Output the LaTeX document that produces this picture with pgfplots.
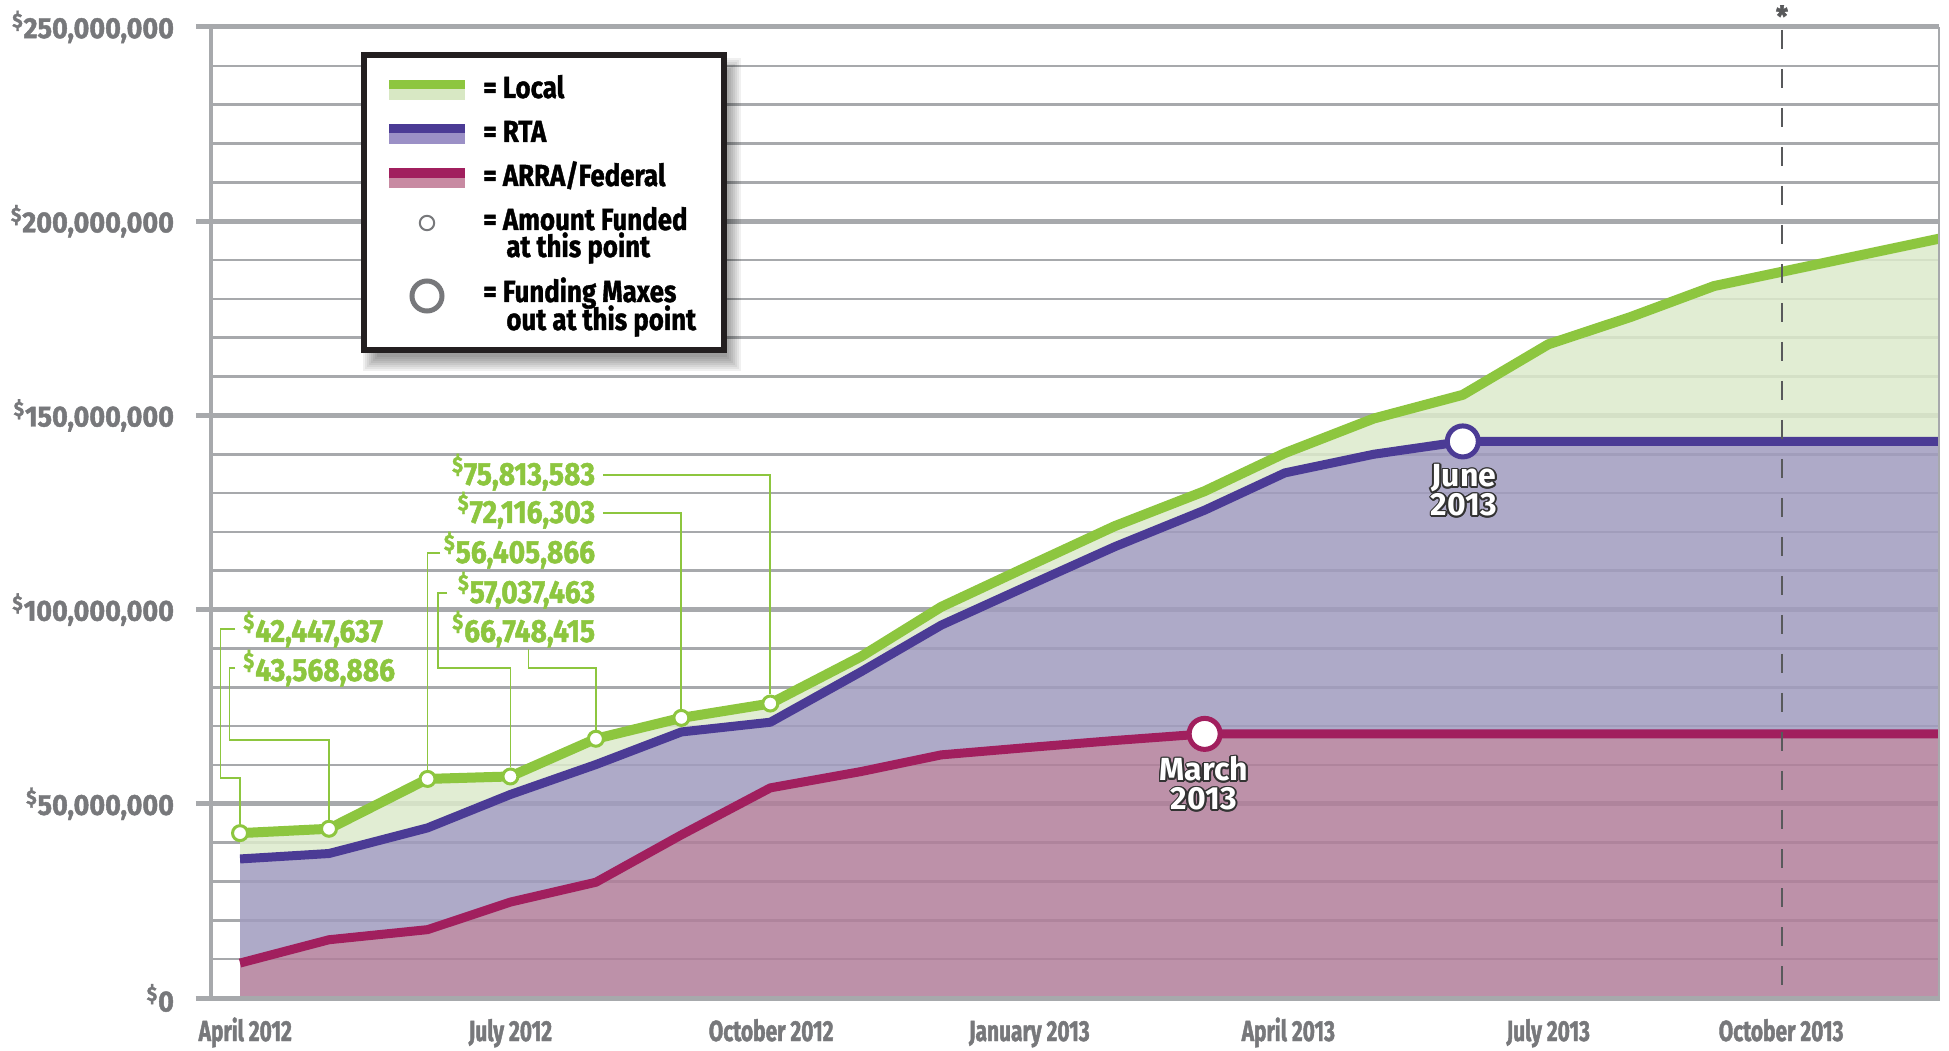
\documentclass[border=0pt]{standalone}
\usepackage{pgfplots}
\pgfplotsset{compat=1.18}
\usepackage{pgfplotstable}
\usepgfplotslibrary{fillbetween}
\usepackage{fontspec}
\setmainfont{Fira Sans}
\newfontfamily\ticksf{Fira Sans}[FakeStretch=0.93, FakeBold=1.5]
\newfontfamily\monthf{Fira Sans}[FakeStretch=0.72, FakeBold=1.5]
\newfontfamily\legf{Fira Sans}[FakeStretch=0.85, FakeBold=1.2]
\newfontfamily\valf{Fira Sans}[FakeStretch=0.88, FakeBold=1.5]
\newfontfamily\markf{Fira Sans}
\newcommand\fTick{\ticksf\bfseries\fontsize{14.5}{15}\selectfont}
\newcommand\fMonth{\monthf\bfseries\fontsize{14.5}{15}\selectfont}
\newcommand\fLeg{\legf\bfseries\fontsize{15.2}{16}\selectfont}
\newcommand\fVal{\valf\bfseries\fontsize{16}{17}\selectfont}
\newcommand\fMark{\markf\bfseries\fontsize{16}{17}\selectfont}

\definecolor{lcol}{HTML}{8DC63F}
\definecolor{rcol}{HTML}{4B3B95}
\definecolor{acol}{HTML}{A11F5E}
\definecolor{lfill}{HTML}{DCEACB}
\definecolor{rfill}{HTML}{A09BBE}
\definecolor{afill}{HTML}{B17E9A}
\definecolor{lsw}{HTML}{D8E8C4}
\definecolor{rsw}{HTML}{9B90C6}
\definecolor{asw}{HTML}{C88AA2}
\definecolor{gridgray}{HTML}{A7A9AC}
\definecolor{tickgray}{HTML}{77787B}
\definecolor{dashc}{HTML}{58595B}
\definecolor{haloc}{HTML}{333333}
\definecolor{boxc}{HTML}{231F20}

% x: months after April 2012, y: millions of dollars
\pgfplotstableread{
x     loc        rta    arra
0     42.447637  35.8   9.0
1.02  43.568886  37.2   15.0
2.15  56.405866  43.8   17.6
3.10  57.037463  52.4   24.7
4.08  66.748415  60.1   29.8
5.06  72.116303  68.5   42.0
6.08  75.813583  71.0   54.1
7.12  87.9       84.0   58.3
8.04  100.7      96.0   62.6
9.04  111.2      106.2  64.5
10.03 121.5      116.2  66.3
11.06 130.5      125.6  68.0
11.98 140.3      135.2  68.0
13.0  149.2      140.0  68.0
14.02 155.3      143.3  68.0
15.0  168.3      143.3  68.0
15.94 175.3      143.3  68.0
16.9  183.3      143.3  68.0
19.48 195.5      143.3  68.0
}\fund

% white label with a dark outline
\newcommand\halotext[2]{%
  \foreach \a in {0,30,...,330}{\node[anchor=base, font=\fMark, text=haloc, shift={(\a:0.9pt)}] at (#1) {#2};}%
  \node[anchor=base, font=\fMark, text=white] at (#1) {#2};}

\begin{document}
\begin{tikzpicture}
\begin{axis}[
    scale only axis, width=864pt, height=485.5pt,
    xmin=-0.333, xmax=19.48, ymin=0, ymax=250,
    axis line style={draw=none},
    xtick={0.06,3.1,6.09,9.05,12.02,15,17.67},
    xticklabels={April 2012,July 2012,October 2012,January 2013,April 2013,July 2013,October 2013},
    xtick style={draw=none},
    xticklabel style={font=\fMonth, text=tickgray, anchor=base, yshift=-14pt},
    ytick={0,50,100,150,200,250},
    yticklabels={{\textsuperscript{\$}0},{\textsuperscript{\$}50,000,000},{\textsuperscript{\$}100,000,000},{\textsuperscript{\$}150,000,000},{\textsuperscript{\$}200,000,000},{\textsuperscript{\$}250,000,000}},
    yticklabel style={font=\fTick, text=tickgray, anchor=east, xshift=-7.5pt},
    minor y tick num=4,
    ymajorgrids, yminorgrids,
    major grid style={line width=2.5pt, draw=gridgray},
    minor grid style={line width=1.3pt, draw=gridgray},
    ytick pos=left, tick align=outside,
    major tick length=7.5pt, minor tick length=0pt,
    ytick style={line width=2.5pt, draw=gridgray},
]
\addplot[draw=none, name path=L] table[x=x, y=loc] {\fund};
\addplot[draw=none, name path=R] table[x=x, y=rta] {\fund};
\addplot[draw=none, name path=A] table[x=x, y=arra] {\fund};
\addplot[draw=none, name path=Z] coordinates {(0,0) (19.48,0)};
\addplot[fill=lfill, fill opacity=0.85, draw=none] fill between[of=L and R];
\addplot[fill=rfill, fill opacity=0.85, draw=none] fill between[of=R and A];
\addplot[fill=afill, fill opacity=0.85, draw=none] fill between[of=A and Z];

\addplot[acol, line width=4.5pt, line join=round] table[x=x, y=arra] {\fund};
\addplot[rcol, line width=4.5pt, line join=round] table[x=x, y=rta] {\fund};
\addplot[lcol, line width=5pt, line join=round] table[x=x, y=loc] {\fund};

% amount funded points
\addplot[only marks, mark=*, mark size=3.75pt, draw=lcol, fill=white, line width=1.5pt,
    restrict x to domain=0:6.5] table[x=x, y=loc] {\fund};
% funding maxes out
\addplot[only marks, mark=*, mark size=7.75pt, draw=acol, fill=white, line width=2.5pt] coordinates {(11.06,68.0)};
\addplot[only marks, mark=*, mark size=7.75pt, draw=rcol, fill=white, line width=2.5pt] coordinates {(14.02,143.3)};
\end{axis}

\begin{scope}[x=0.5pt, y=-0.5pt, shift={(-105.5pt,499pt)}, every node/.style={inner sep=0pt}]
% frame
\draw[gridgray, line width=2pt] (211,27) -- (211,998);
\draw[gridgray, line width=1pt] (1939,27) -- (1939,998);
\draw[gridgray, line width=2.5pt] (196,998) -- (1940,998);
% dashed marker
\draw[dashc, line width=1pt, dash pattern=on 9.5pt off 10pt] (1782,30) -- (1782,997);
\node[font=\fTick, text=dashc] at (1782,16) {*};

% month labels on the max points
\halotext{1204,781}{March}
\halotext{1204,810}{2013}
\halotext{1464,487}{June}
\halotext{1464,516}{2013}

% leader lines
\begin{scope}[lcol, line width=0.75pt]
\draw (603,475) -| (770.2,694.5);
\draw (603,513) -| (681.2,709);
\draw (440,553) -| (427.5,770);
\draw (447,593) -- (438,593) -- (438,668) -- (510.3,668) -- (510.3,767.5);
\draw (528.5,649) -- (528.5,668) -- (595.8,668) -- (595.8,729.7);
\draw (235,629) -- (220.5,629) -- (220.5,778) -- (240,778) -- (240,824);
\draw (235,668) -- (229.5,668) -- (229.5,740) -- (328.9,740) -- (328.9,820);
\end{scope}
\node[anchor=base east, font=\fVal, text=lcol] at (595.5,485) {\textsuperscript{\$}75,813,583};
\node[anchor=base east, font=\fVal, text=lcol] at (595.5,523) {\textsuperscript{\$}72,116,303};
\node[anchor=base east, font=\fVal, text=lcol] at (595.5,563) {\textsuperscript{\$}56,405,866};
\node[anchor=base east, font=\fVal, text=lcol] at (595.5,603) {\textsuperscript{\$}57,037,463};
\node[anchor=base east, font=\fVal, text=lcol] at (595.5,642) {\textsuperscript{\$}66,748,415};
\node[anchor=base west, font=\fVal, text=lcol] at (243,642) {\textsuperscript{\$}42,447,637};
\node[anchor=base west, font=\fVal, text=lcol] at (243,681) {\textsuperscript{\$}43,568,886};

% legend
\foreach \i in {0,...,7}{
  \fill[black, opacity=0.06] (363+2*\i,58+2*\i) rectangle (741-2*\i,371-2*\i);
}
\filldraw[fill=white, draw=boxc, line width=3pt] (364,55) rectangle (724,350);
\fill[lcol] (389,80) rectangle (465,89);
\fill[lsw] (389,89) rectangle (465,100);
\fill[rcol] (389,124) rectangle (465,133);
\fill[rsw] (389,133) rectangle (465,144);
\fill[acol] (389,168) rectangle (465,178);
\fill[asw] (389,178) rectangle (465,188);
\draw[tickgray, line width=1pt] (427,223) circle[radius=3.6pt];
\draw[tickgray, line width=2.5pt] (427,296) circle[radius=7.5pt];
\node[anchor=base west, font=\fLeg] at (483,98) {= Local};
\node[anchor=base west, font=\fLeg] at (483,142) {= RTA};
\node[anchor=base west, font=\fLeg] at (483,186) {= ARRA/Federal};
\node[anchor=base west, font=\fLeg] at (483,230) {= Amount Funded};
\node[anchor=base west, font=\fLeg] at (506,257) {at this point};
\node[anchor=base west, font=\fLeg] at (483,302) {= Funding Maxes};
\node[anchor=base west, font=\fLeg] at (506,330) {out at this point};
\end{scope}
\pgfresetboundingbox
\path[use as bounding box] (-105.5pt,-26pt) rectangle (869pt,499pt);
\end{tikzpicture}
\end{document}
